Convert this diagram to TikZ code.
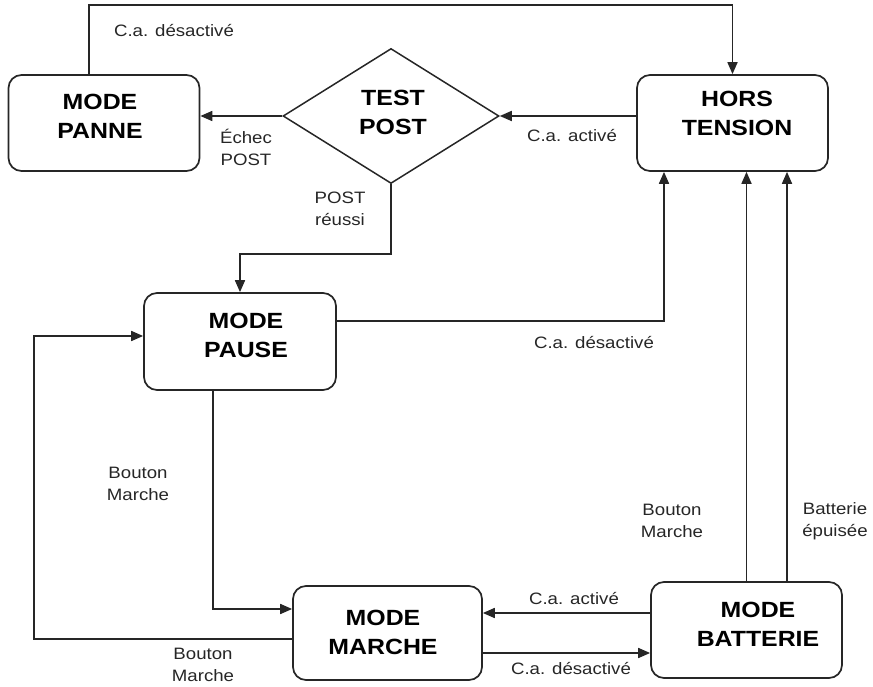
\documentclass[tikz,border=0pt]{standalone}
\usepackage{fontspec}
\setmainfont{Liberation Sans}[FakeStretch=1.13]
\usetikzlibrary{arrows.meta,shapes.geometric,calc}
\begin{document}
\begin{tikzpicture}[x=1pt,y=-1pt,
  box/.style={draw=black!85, line width=1.7pt, rounded corners=13pt, minimum width=191pt, minimum height=96pt, inner sep=0pt},
  dia/.style={draw=black!85, diamond, line width=1.5pt, minimum width=216pt, minimum height=135pt, inner sep=0pt},
  ttl/.style={font=\fontsize{22}{29}\selectfont\bfseries, align=center, inner sep=0pt},
  lbl/.style={font=\fontsize{16.5}{22}\selectfont, align=center, inner sep=0pt, text=black!85},
  conn/.style={draw=black!85, line width=1.7pt},
  arr/.style={conn, -{Triangle[length=12pt,width=10pt]}}
]
\useasboundingbox (0,0) rectangle (873,687);

% boxes
\node[box] (panne) at (104,123) {};
\node[dia] (test) at (391,116) {};
\node[box] (hors) at (732.5,123) {};
\node[box, minimum width=192pt, minimum height=97pt] (pause) at (240,341.5) {};
\node[box, minimum width=189pt, minimum height=94pt] (marche) at (387.5,633) {};
\node[box] (batterie) at (746.5,630) {};

% titles
\node[ttl] (tpanne) at (100,116.5) {MODE\\PANNE};
\node[ttl] (ttest) at (393,112.5) {TEST\\POST};
\node[ttl] (thors) at (737,113.5) {HORS\\TENSION};
\node[ttl] (tpause) at (246,335.5) {MODE\\PAUSE};
\node[ttl] (tmarche) at (383,632.5) {MODE\\MARCHE};
\node[ttl] (tbatt) at (758,624.5) {MODE\\BATTERIE};

% connectors
\draw[arr] ($(panne.north)+(-15,0)$) -- ++(0,-69) -| (hors.north);
\draw[arr] (test.east -| hors.west) -- (test.east);
\draw[arr] (test.west) -- (test.west -| panne.east);
\draw[arr] (test.south) -- ++(0,69.5) -| (pause.north);
\draw[arr] ($(pause.east)+(0,-20.5)$) -| ($(hors.south)+(-68.5,0)$);
\draw[arr] ($(marche.west)+(0,6)$) -| ($(pause.west)+(-109,-5.5)$) -- ($(pause.west)+(0,-5.5)$);
\draw[arr] ($(pause.south)+(-27,0)$) |- ($(marche.west)+(0,-24)$);
\coordinate (b1) at ($(batterie.west)+(0,-17)$);
\draw[arr] (b1) -- (b1 -| marche.east);
\coordinate (m1) at ($(marche.east)+(0,20)$);
\draw[arr] (m1) -- (m1 -| batterie.west);
\draw[arr] (batterie.north) -- (batterie.north |- hors.south);
\coordinate (b2) at ($(batterie.north)+(40.5,0)$);
\draw[arr] (b2) -- (b2 |- hors.south);

% labels
\node[lbl] (l1) at (174,31) {C.a. désactivé};
\node[lbl] (l2) at (246,147) {Échec\\POST};
\node[lbl] (l3) at (340,209) {POST\\réussi};
\node[lbl] (l4) at (572,136) {C.a. activé};
\node[lbl] (l5) at (594,343) {C.a. désactivé};
\node[lbl] (l6) at (138,484) {Bouton\\Marche};
\node[lbl] (l7) at (203,665) {Bouton\\Marche};
\node[lbl] (l8) at (672,521) {Bouton\\Marche};
\node[lbl] (l9) at (835,521) {Batterie\\épuisée};
\node[lbl] (l10) at (574,599) {C.a. activé};
\node[lbl] (l11) at (571,669) {C.a. désactivé};
\end{tikzpicture}
\end{document}
